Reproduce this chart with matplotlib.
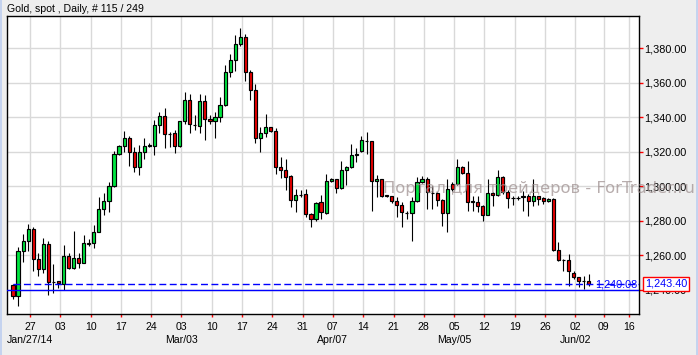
import numpy as np
import matplotlib
matplotlib.use("Agg")
import matplotlib.pyplot as plt
from matplotlib import transforms

plt.rcParams['font.family'] = ['Liberation Sans', 'DejaVu Sans']

title = 'Gold, spot , Daily, # 115 / 249'

opens = [
    1242.8, 1236.6, 1262.3, 1268.1, 1275.1, 1257.7, 1251.9, 1266.4, 1244.7, 1244.9,
    1243.4, 1259.4, 1252.5, 1258.3, 1255.7, 1266.8, 1267.0, 1273.3, 1286.7, 1291.3,
    1300.0, 1318.5, 1323.2, 1327.8, 1320.1, 1311.4, 1320.1, 1323.4, 1323.6, 1335.4,
    1340.6, 1330.5, 1330.7, 1323.2, 1337.7, 1349.9, 1335.4, 1335.2, 1349.3, 1339.0,
    1337.7, 1340.0, 1347.0, 1366.1, 1373.0, 1382.3, 1386.4, 1366.1, 1355.7, 1327.8,
    1330.7, 1334.2, 1331.9, 1311.0, 1309.3, 1306.0, 1292.3, 1295.0, 1295.4, 1283.8,
    1280.9, 1290.7, 1284.5, 1302.9, 1304.1, 1298.8, 1309.7, 1311.0, 1318.4, 1320.7,
    1326.3, 1326.1, 1302.9, 1304.1, 1294.6, 1294.2, 1291.3, 1289.4, 1284.7, 1284.3,
    1291.3, 1302.3, 1304.1, 1296.3, 1295.9, 1291.9, 1284.3, 1301.4, 1301.4, 1311.0,
    1307.5, 1291.1, 1291.1, 1288.8, 1283.6, 1295.9, 1295.0, 1305.2, 1296.5, 1293.0,
    1293.2, 1293.6, 1294.6, 1291.7, 1294.2, 1293.0, 1291.5, 1292.7, 1263.3, 1257.5,
    1257.3, 1249.6, 1247.2, 1245.1, 1245.3]
closes = [
    1236.6, 1262.3, 1268.1, 1275.1, 1257.7, 1251.9, 1266.4, 1244.3, 1244.4, 1243.8,
    1259.4, 1252.5, 1258.3, 1255.7, 1267.0, 1267.2, 1273.3, 1286.7, 1291.3, 1300.0,
    1318.5, 1323.2, 1327.8, 1320.1, 1311.4, 1320.1, 1323.2, 1323.7, 1335.4, 1340.6,
    1330.1, 1330.3, 1323.2, 1337.7, 1349.9, 1335.9, 1335.6, 1349.3, 1338.8, 1337.7,
    1340.0, 1347.0, 1366.1, 1373.0, 1382.3, 1386.4, 1366.1, 1355.7, 1327.8, 1330.7,
    1334.2, 1331.9, 1311.0, 1309.3, 1305.6, 1292.3, 1294.8, 1295.2, 1283.8, 1280.9,
    1290.1, 1284.9, 1302.9, 1304.3, 1298.8, 1309.7, 1311.0, 1318.4, 1318.6, 1326.7,
    1326.4, 1302.9, 1304.1, 1294.6, 1294.8, 1291.3, 1289.4, 1284.9, 1284.5, 1291.3,
    1302.3, 1304.1, 1296.5, 1296.1, 1291.9, 1284.3, 1298.3, 1298.3, 1311.0, 1307.5,
    1290.7, 1291.3, 1288.8, 1283.6, 1295.9, 1295.0, 1305.2, 1296.5, 1293.0, 1293.2,
    1293.4, 1294.6, 1291.5, 1294.2, 1292.7, 1291.5, 1292.7, 1263.3, 1257.5, 1257.3,
    1250.7, 1247.2, 1244.9, 1245.0, 1243.4]
highs = [
    1243.5, 1265.0, 1272.4, 1278.2, 1276.2, 1261.2, 1269.9, 1268.5, 1255.0, 1245.0,
    1266.0, 1261.2, 1274.1, 1261.2, 1271.8, 1269.3, 1277.6, 1293.6, 1295.9, 1302.7,
    1320.5, 1323.9, 1332.1, 1329.2, 1323.0, 1323.9, 1328.2, 1324.9, 1338.5, 1343.1,
    1345.5, 1331.7, 1332.7, 1338.1, 1354.7, 1353.5, 1341.2, 1353.5, 1352.9, 1341.2,
    1343.3, 1352.0, 1370.3, 1376.5, 1387.7, 1391.6, 1388.3, 1367.4, 1359.1, 1334.2,
    1341.7, 1334.6, 1333.6, 1317.2, 1315.6, 1306.6, 1298.3, 1297.9, 1298.5, 1284.7,
    1291.1, 1295.0, 1307.1, 1304.6, 1304.1, 1314.9, 1312.0, 1324.5, 1322.0, 1329.4,
    1331.3, 1326.5, 1306.6, 1304.1, 1295.2, 1294.6, 1293.6, 1290.7, 1285.9, 1293.6,
    1305.2, 1306.2, 1305.2, 1300.4, 1296.5, 1292.7, 1304.3, 1302.7, 1315.8, 1311.6,
    1314.5, 1294.2, 1294.2, 1289.4, 1304.3, 1296.5, 1309.5, 1306.2, 1297.9, 1294.2,
    1294.2, 1297.5, 1295.6, 1304.3, 1294.6, 1293.6, 1293.0, 1293.0, 1267.9, 1257.9,
    1260.6, 1250.9, 1247.6, 1248.2, 1249.2]
lows = [
    1234.9, 1230.8, 1256.3, 1262.7, 1251.1, 1248.0, 1249.9, 1237.0, 1238.0, 1241.3,
    1239.9, 1251.9, 1251.9, 1252.5, 1255.4, 1265.4, 1264.4, 1273.3, 1283.4, 1285.3,
    1299.4, 1318.2, 1320.1, 1311.8, 1308.5, 1306.6, 1315.6, 1322.6, 1318.4, 1330.7,
    1322.0, 1323.0, 1319.1, 1323.0, 1335.9, 1330.7, 1332.7, 1330.7, 1326.9, 1335.9,
    1327.8, 1337.1, 1346.6, 1363.6, 1367.1, 1381.4, 1361.3, 1350.0, 1325.3, 1320.1,
    1328.8, 1331.3, 1307.1, 1305.0, 1297.9, 1288.2, 1285.3, 1294.0, 1282.0, 1276.6,
    1280.1, 1281.1, 1284.0, 1302.3, 1295.9, 1298.5, 1300.8, 1310.6, 1314.3, 1319.7,
    1318.7, 1285.5, 1293.6, 1293.6, 1293.6, 1290.3, 1282.0, 1276.2, 1281.1, 1268.5,
    1290.7, 1301.9, 1286.9, 1286.9, 1288.8, 1277.2, 1273.7, 1297.5, 1300.8, 1307.1,
    1285.9, 1285.9, 1284.9, 1279.7, 1283.4, 1288.8, 1294.6, 1295.6, 1287.4, 1289.2,
    1292.3, 1285.9, 1283.0, 1288.8, 1289.2, 1289.8, 1290.7, 1262.7, 1256.9, 1251.1,
    1242.4, 1246.3, 1241.4, 1240.5, 1242.4]

week_labels = ['27', '03', '10', '17', '24', '03', '10', '17', '24', '31', '07',
               '14', '21', '28', '05', '12', '19', '26', '02', '09', '16']
month_labels = {0: 'Jan/27/14', 5: 'Mar/03', 10: 'Apr/07', 14: 'May/05', 18: 'Jun/02'}
price_ticks = [1240, 1260, 1280, 1300, 1320, 1340, 1360, 1380]
hline_level = 1240.08
last_price = closes[-1]

# weekly tick positions: 6 bars per week for the data, 5 per week after it
tick_pos = [3.35 + 6 * k for k in range(19)]
tick_pos += [tick_pos[-1] + 5.6, tick_pos[-1] + 10.6]

W, H = 698, 355
fig = plt.figure(figsize=(W / 100, H / 100), dpi=100)
fig.patch.set_facecolor('#eeeeee')
# thin blue frame strips at the sides
fig.add_artist(plt.Rectangle((0, 0), 2 / W, 1, transform=fig.transFigure, color='#c5d3ef', lw=0))
fig.add_artist(plt.Rectangle((1 - 2 / W, 0), 2 / W, 1, transform=fig.transFigure, color='#c5d3ef', lw=0))

left, right, top, bottom = 6.5, 639, 15.7, 314
ax = fig.add_axes([left / W, 1 - bottom / H, (right - left) / W, (bottom - top) / H])
ax.set_facecolor('white')

x = np.arange(len(opens))
o = np.array(opens)
c = np.array(closes)
up = c >= o
cols = np.where(up, '#00e640', '#ee0000')

ax.vlines(x, lows, highs, color='black', lw=0.8, zorder=3)
ax.bar(x, c - o, bottom=o, width=0.62, color=cols, edgecolor='black', linewidth=0.85, zorder=4)

ax.axhline(hline_level, color='#0000ff', lw=1.0, zorder=5)
ax.plot([0, 130], [last_price, last_price], color='#0000ff', lw=1.0, dashes=(5, 2.5), zorder=5)

ax.set_xlim(-1.29, 123.96)
ax.set_ylim(1225.97, 1398.9)

ax.set_xticks(tick_pos)
ax.set_xticklabels(week_labels)
ax.set_yticks(price_ticks)
ax.set_yticklabels(['{:,.2f}'.format(p) for p in price_ticks])
ax.yaxis.tick_right()
ax.tick_params(axis='x', direction='out', length=2.5, width=1, color='red', pad=3.2, labelsize=7.6)
ax.tick_params(axis='y', direction='out', length=3, width=1, color='red', pad=0.6, labelsize=7.8)
ax.grid(True, color='#d9d9d9', lw=1.0)
ax.set_axisbelow(True)
for s in ax.spines.values():
    s.set_color('black')
    s.set_linewidth(1.0)

trans = transforms.blended_transform_factory(ax.transData, ax.transAxes)
for k, lab in month_labels.items():
    ax.text(tick_pos[k], -26 / (bottom - top), lab, transform=trans, ha='center', va='center',
            fontsize=7.6, clip_on=False)

ytrans = ax.get_yaxis_transform()
ax.text((637 - left) / (right - left), hline_level, '{:,.2f}'.format(hline_level), transform=ytrans,
        ha='right', va='bottom', color='#0000ff', fontsize=7.8, zorder=6)
ax.text((645 - left) / (right - left), last_price, '{:,.2f}'.format(last_price), transform=ytrans,
        ha='left', va='center', color='#0000ff', fontsize=7.8, zorder=10, clip_on=False,
        bbox=dict(boxstyle='square,pad=0.18', fc='white', ec='red', lw=1.0))

fig.text(7 / W, 1 - 9 / H, title, ha='left', va='center', fontsize=7.6)
fig.text(383 / W, 1 - 188 / H, 'Портал для трейдеров - ForTrader.ru', ha='left', va='center',
         fontsize=11.8, color='#a09292', alpha=0.75, family=['DejaVu Sans'], zorder=20)

fig.savefig('out.png', dpi=100, facecolor=fig.get_facecolor())
